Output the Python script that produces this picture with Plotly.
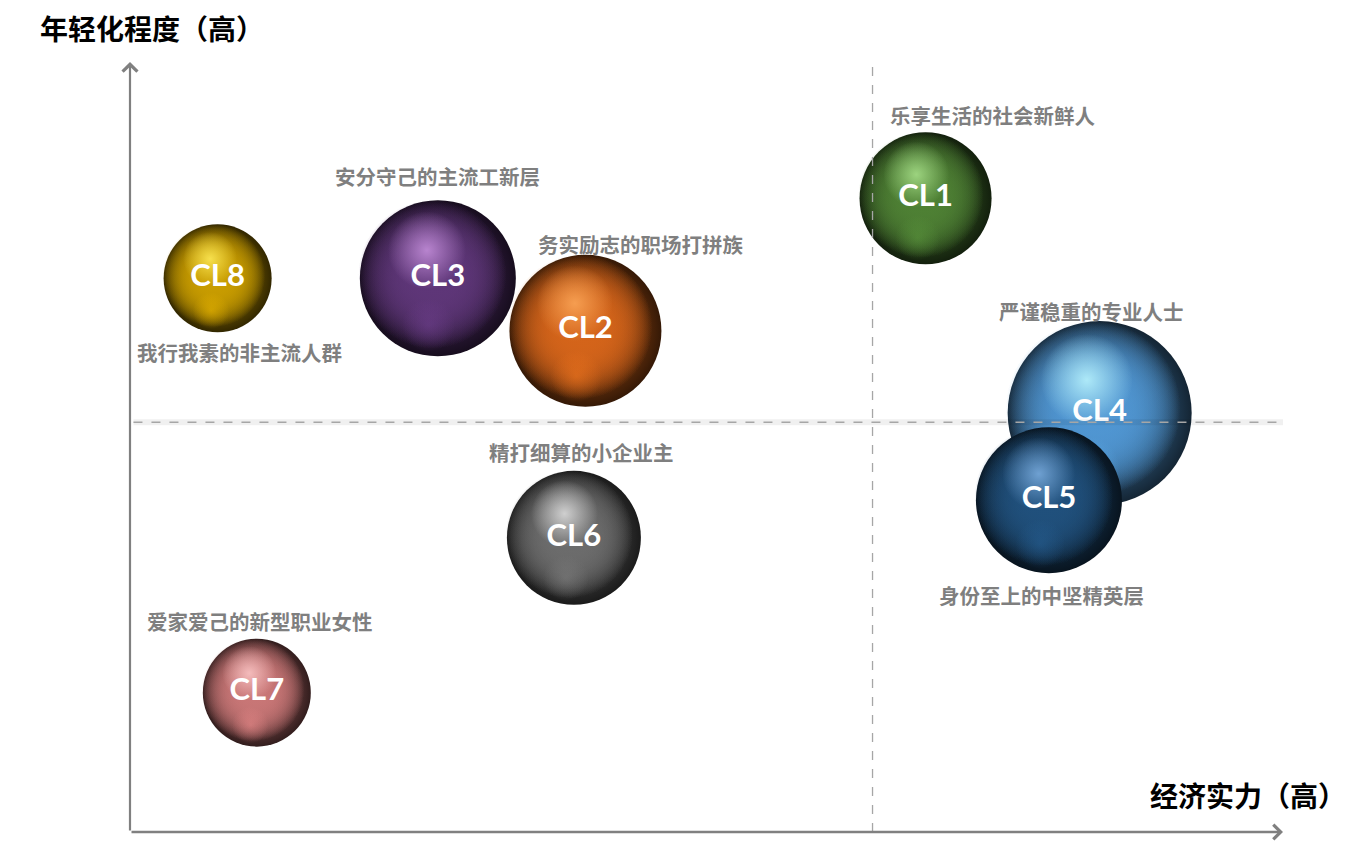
import plotly.graph_objects as go

# ---------------- data ----------------
clusters = ["CL8", "CL3", "CL2", "CL1", "CL6", "CL7", "CL4", "CL5"]
segment_names = ["我行我素的非主流人群", "安分守己的主流工新层", "务实励志的职场打拼族",
                 "乐享生活的社会新鲜人", "精打细算的小企业主", "爱家爱己的新型职业女性",
                 "严谨稳重的专业人士", "身份至上的中坚精英层"]
economic_power = [0.76, 2.67, 3.95, 6.90, 3.85, 1.10, 8.41, 7.97]
youthfulness = [7.19, 7.19, 6.51, 8.23, 3.82, 1.81, 5.44, 4.31]
bubble_size = [108, 156, 152, 132, 134, 108, 184, 146]
x_divider = 6.44
y_divider = 5.32
x_title = "经济实力（高）"
y_title = "年轻化程度（高）"

# ---------------- styles ----------------
base_rgb = [(200, 156, 0), (94, 54, 120), (212, 100, 26), (78, 128, 52),
            (108, 108, 108), (200, 118, 118), (80, 150, 210), (32, 80, 124)]
light_rgb = [(255, 236, 90), (200, 146, 222), (252, 168, 90), (170, 226, 140),
             (225, 225, 225), (252, 200, 200), (190, 248, 255), (125, 175, 225)]
# label offsets (px, right / up) relative to bubble centre
label_dx = [22, 0, 55, 67, 8, 3, -8, -7]
label_dy = [-74, 102, 87, 83, 86, 72, 102, -95]

# the page body adds an 8px margin around the figure
W, H = 1356, 840
margin = dict(l=122, r=81, t=54, b=16)
x_range = [0, 10]
y_range = [0, 10]
plot_w = W - margin["l"] - margin["r"]
plot_h = H - margin["t"] - margin["b"]
px_x = plot_w / (x_range[1] - x_range[0])
px_y = plot_h / (y_range[1] - y_range[0])


def paper_xy(fx, fy):
    # figure-pixel position -> paper coordinates
    return (fx - margin["l"]) / plot_w, (H - margin["b"] - fy) / plot_h


def rgba(c, a=1.0, k=1.0):
    return "rgba(%d,%d,%d,%.3f)" % (min(255, c[0] * k), min(255, c[1] * k), min(255, c[2] * k), a)


def blob(x, y, size, center, edge):
    return go.Scatter(x=[x], y=[y], mode="markers", hoverinfo="skip", showlegend=False,
                      marker=dict(size=size, color=edge, line=dict(width=0),
                                  gradient=dict(type="radial", color=center)))


fig = go.Figure()

for i, cl in enumerate(clusters):
    x, y, d = economic_power[i], youthfulness[i], bubble_size[i]
    b, lt = base_rgb[i], light_rgb[i]
    # sphere body: base colour at centre -> shaded rim
    fig.add_trace(blob(x, y, d, rgba(b), rgba(b, 1, 0.25)))
    # lit side (up-left), stacked for a flatter falloff
    for _ in range(3):
        fig.add_trace(blob(x - 0.035 * d / px_x, y + 0.025 * d / px_y, d * 0.95,
                           rgba(b, 1), rgba(b, 0)))
    # soft reflected light along the lower-left rim
    fig.add_trace(blob(x - 0.06 * d / px_x, y - 0.30 * d / px_y, d * 0.34,
                       rgba(b, 0.45, 1.25), rgba(b, 0, 1.25)))
    # specular highlight
    fig.add_trace(blob(x - 0.07 * d / px_x, y + 0.18 * d / px_y, d * 0.5,
                       rgba(lt, 0.85), rgba(lt, 0)))
    # cluster id
    fig.add_trace(go.Scatter(
        x=[x], y=[y], mode="text", text=[cl], hoverinfo="skip", showlegend=False,
        textposition="middle center",
        textfont=dict(family="Lato, Open Sans, sans-serif", size=31, color="white", weight="bold")))
    # segment name
    fig.add_annotation(x=x, y=y, xref="x", yref="y", text="<b>%s</b>" % segment_names[i],
                       showarrow=False, xshift=label_dx[i], yshift=label_dy[i],
                       font=dict(family="Noto Sans CJK SC", size=20.5, color="#7f7f7f"))

# divider lines (drawn above bubbles, as in the reference)
fig.add_shape(type="line", x0=x_range[0] + 0.03, x1=x_range[1], y0=y_divider, y1=y_divider,
              xref="x", yref="y", layer="above",
              line=dict(color="rgba(0,0,0,0.06)", width=6))
fig.add_shape(type="line", x0=x_range[0] + 0.03, x1=x_range[1], y0=y_divider, y1=y_divider,
              xref="x", yref="y", layer="above",
              line=dict(color="#a6a6a6", width=1.5, dash="dash"))
fig.add_shape(type="line", x0=x_divider, x1=x_divider, y0=y_range[0], y1=y_range[1] - 0.04,
              xref="x", yref="y", layer="above",
              line=dict(color="#a6a6a6", width=1.3, dash="dash"))

# axes as arrows
fig.add_annotation(x=x_range[1], y=y_range[0], ax=x_range[0], ay=y_range[0],
                   xref="x", yref="y", axref="x", ayref="y", text="", showarrow=True,
                   arrowhead=4, arrowsize=1.1, arrowwidth=2.6, arrowcolor="#808080")
fig.add_annotation(x=x_range[0], y=y_range[1], ax=x_range[0], ay=y_range[0],
                   xref="x", yref="y", axref="x", ayref="y", text="", showarrow=True,
                   arrowhead=4, arrowsize=1.3, arrowwidth=2.2, arrowcolor="#808080")

# axis titles
tx, ty = paper_xy(144, 20)
fig.add_annotation(x=tx, y=ty, xref="paper", yref="paper", showarrow=False,
                   text="<b>%s</b>" % y_title, xanchor="center", yanchor="middle",
                   font=dict(family="Noto Sans CJK SC", size=28, color="black"))
tx, ty = paper_xy(1240, 787)
fig.add_annotation(x=tx, y=ty, xref="paper", yref="paper", showarrow=False,
                   text="<b>%s</b>" % x_title, xanchor="center", yanchor="middle",
                   font=dict(family="Noto Sans CJK SC", size=28, color="black"))

fig.update_layout(
    width=W, height=H, margin=margin,
    paper_bgcolor="white", plot_bgcolor="white",
    xaxis=dict(range=x_range, visible=False, fixedrange=True),
    yaxis=dict(range=y_range, visible=False, fixedrange=True),
    showlegend=False,
)

fig.write_html("out.html")
